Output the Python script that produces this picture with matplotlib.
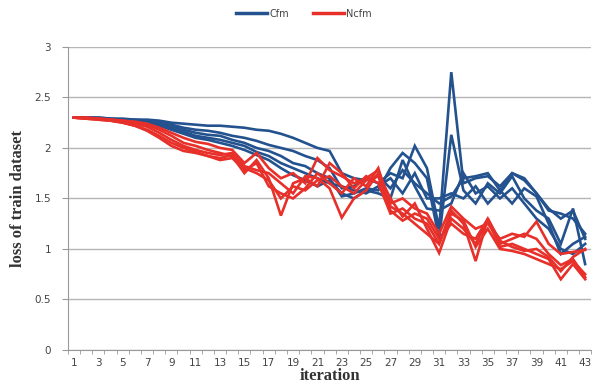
import numpy as np
import matplotlib
matplotlib.use("Agg")
import matplotlib.pyplot as plt
from matplotlib.lines import Line2D

# iterations 1..43
iterations = list(range(1, 44))

# Cfm runs (blue)
cfm_1 = [2.30, 2.30, 2.30, 2.29, 2.29, 2.28, 2.28, 2.27, 2.25, 2.24,
         2.23, 2.22, 2.22, 2.21, 2.20, 2.18, 2.17, 2.14, 2.10, 2.05,
         2.00, 1.97, 1.75, 1.70, 1.68, 1.72, 1.60, 1.78, 1.65, 1.55,
         1.45, 1.52, 1.70, 1.72, 1.75, 1.58, 1.75, 1.68, 1.55, 1.40,
         1.30, 1.38, 1.10]
cfm_2 = [2.30, 2.30, 2.30, 2.29, 2.28, 2.28, 2.27, 2.25, 2.23, 2.20,
         2.18, 2.17, 2.15, 2.12, 2.10, 2.07, 2.03, 2.00, 1.97, 1.92,
         1.88, 1.80, 1.60, 1.62, 1.70, 1.65, 1.75, 1.70, 2.02, 1.80,
         1.20, 2.75, 1.65, 1.70, 1.72, 1.62, 1.75, 1.70, 1.55, 1.38,
         1.35, 1.30, 1.15]
cfm_3 = [2.30, 2.30, 2.29, 2.28, 2.28, 2.27, 2.26, 2.24, 2.21, 2.18,
         2.15, 2.13, 2.12, 2.08, 2.05, 2.00, 1.97, 1.92, 1.85, 1.82,
         1.75, 1.70, 1.52, 1.55, 1.60, 1.58, 1.80, 1.95, 1.85, 1.70,
         1.10, 2.13, 1.58, 1.45, 1.65, 1.55, 1.72, 1.50, 1.38, 1.30,
         1.05, 1.40, 0.85]
cfm_4 = [2.30, 2.30, 2.29, 2.28, 2.27, 2.26, 2.25, 2.23, 2.19, 2.16,
         2.12, 2.10, 2.08, 2.05, 2.02, 1.96, 1.92, 1.85, 1.80, 1.75,
         1.70, 1.65, 1.62, 1.58, 1.55, 1.62, 1.70, 1.55, 1.75, 1.50,
         1.50, 1.55, 1.50, 1.62, 1.45, 1.58, 1.45, 1.60, 1.52, 1.25,
         0.95, 1.05, 1.12]
cfm_5 = [2.30, 2.30, 2.29, 2.28, 2.27, 2.26, 2.25, 2.22, 2.18, 2.14,
         2.10, 2.08, 2.05, 2.02, 1.98, 1.93, 1.88, 1.80, 1.73, 1.68,
         1.62, 1.68, 1.55, 1.50, 1.58, 1.55, 1.50, 1.88, 1.62, 1.40,
         1.38, 1.45, 1.75, 1.55, 1.62, 1.50, 1.60, 1.45, 1.30, 1.20,
         1.00, 0.95, 1.05]

# Ncfm runs (red)
ncfm_1 = [2.30, 2.30, 2.29, 2.28, 2.27, 2.26, 2.24, 2.20, 2.15, 2.10,
          2.06, 2.04, 2.00, 1.98, 1.85, 1.95, 1.80, 1.70, 1.75, 1.65,
          1.90, 1.78, 1.72, 1.65, 1.70, 1.78, 1.45, 1.50, 1.40, 1.35,
          1.15, 1.42, 1.30, 1.20, 1.25, 1.10, 1.15, 1.12, 1.27, 1.05,
          0.95, 0.97, 0.99]
ncfm_2 = [2.30, 2.30, 2.29, 2.28, 2.27, 2.25, 2.23, 2.18, 2.12, 2.05,
          2.02, 1.98, 1.95, 1.92, 1.75, 1.88, 1.70, 1.33, 1.65, 1.70,
          1.62, 1.85, 1.75, 1.60, 1.72, 1.65, 1.35, 1.40, 1.30, 1.25,
          1.05, 1.38, 1.25, 0.88, 1.30, 1.05, 1.10, 1.15, 1.10, 0.95,
          0.84, 0.90, 0.72]
ncfm_3 = [2.30, 2.29, 2.29, 2.27, 2.26, 2.24, 2.21, 2.15, 2.08, 2.02,
          1.98, 1.95, 1.93, 1.95, 1.82, 1.78, 1.75, 1.65, 1.55, 1.72,
          1.70, 1.60, 1.31, 1.50, 1.58, 1.75, 1.50, 1.32, 1.45, 1.20,
          0.96, 1.30, 1.20, 1.05, 1.28, 1.02, 1.05, 1.00, 0.95, 0.90,
          0.70, 0.85, 0.70]
ncfm_4 = [2.30, 2.29, 2.28, 2.27, 2.25, 2.22, 2.18, 2.12, 2.05, 2.00,
          1.96, 1.92, 1.88, 1.90, 1.78, 1.85, 1.62, 1.55, 1.50, 1.60,
          1.75, 1.65, 1.55, 1.70, 1.62, 1.80, 1.42, 1.35, 1.25, 1.15,
          1.05, 1.35, 1.28, 1.02, 1.20, 1.00, 0.98, 0.95, 0.90, 0.85,
          0.80, 0.88, 0.75]
ncfm_5 = [2.30, 2.29, 2.28, 2.27, 2.25, 2.22, 2.17, 2.10, 2.02, 1.97,
          1.95, 1.92, 1.90, 1.93, 1.80, 1.75, 1.68, 1.50, 1.62, 1.58,
          1.68, 1.72, 1.62, 1.55, 1.68, 1.72, 1.38, 1.28, 1.35, 1.30,
          1.10, 1.25, 1.15, 1.10, 1.30, 1.08, 1.02, 0.98, 1.00, 0.92,
          0.78, 0.92, 1.00]

cfm_runs = [cfm_1, cfm_2, cfm_3, cfm_4, cfm_5]
ncfm_runs = [ncfm_1, ncfm_2, ncfm_3, ncfm_4, ncfm_5]

blue = "#23528f"
red = "#e8302a"

fig = plt.figure(figsize=(5.96, 3.91), dpi=100)
ax = fig.add_axes([0.114, 0.105, 0.878, 0.775])

for run in cfm_runs:
    ax.plot(iterations, run, color=blue, lw=1.9, solid_joinstyle="miter")
for run in ncfm_runs:
    ax.plot(iterations, run, color=red, lw=1.9, solid_joinstyle="miter")

ax.set_xlim(0.5, 43.5)
ax.set_ylim(0, 3)
ax.set_yticks([0, 0.5, 1, 1.5, 2, 2.5, 3])
ax.set_yticklabels(["0", "0.5", "1", "1.5", "2", "2.5", "3"])
ax.set_xticks(iterations[::2])
ax.set_xticks(np.arange(0.5, 44, 1), minor=True)
ax.tick_params(axis="x", which="major", length=0, pad=6, labelsize=7.5, labelcolor="#444444")
ax.tick_params(axis="x", which="minor", length=3, color="#999999")
ax.tick_params(axis="y", length=4, color="#999999", labelsize=7.5, labelcolor="#444444", pad=8)
ax.grid(axis="y", color="#b5b5b5", lw=1.0)
ax.set_axisbelow(True)
for side in ["top", "right"]:
    ax.spines[side].set_visible(False)
for side in ["left", "bottom"]:
    ax.spines[side].set_color("#999999")

ax.set_ylabel("loss of train dataset", family="Liberation Serif", fontsize=12,
              fontweight="bold", color="#333333", labelpad=6)
ax.set_xlabel("iteration", family="Liberation Serif", fontsize=12,
              fontweight="bold", color="#333333", labelpad=0)

handles = [Line2D([], [], color=blue, lw=2.5), Line2D([], [], color=red, lw=2.5)]
fig.legend(handles, ["Cfm", "Ncfm"], loc="upper center", bbox_to_anchor=(0.51, 1.0),
           ncol=2, frameon=False, fontsize=7, handlelength=3.2, columnspacing=2.5,
           handletextpad=0.2, labelcolor="#444444")

fig.savefig("out.png", dpi=100)
